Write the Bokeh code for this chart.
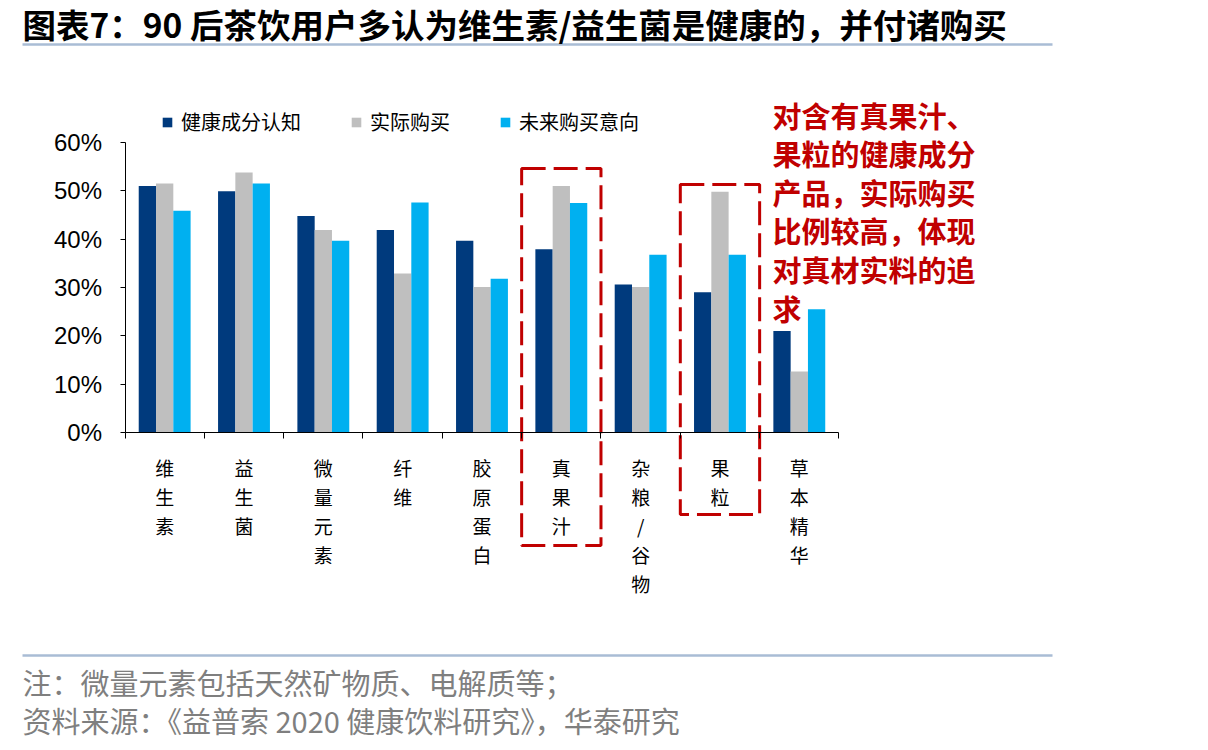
import numpy as np
from bokeh.plotting import figure
from bokeh.models import (Range1d, FixedTicker, PrintfTickFormatter, CustomJSTickFormatter,
                          LinearAxis, Label, ColumnDataSource, Legend, LegendItem, Grid)
from bokeh.transform import dodge
from bokeh.embed import file_html
from bokeh.resources import INLINE

# ---------------- data ----------------
categories = ["维生素", "益生菌", "微量元素", "纤维", "胶原蛋白", "真果汁", "杂粮/谷物", "果粒", "草本精华"]
series_names = ["健康成分认知", "实际购买", "未来购买意向"]
health_awareness = [51.0, 49.9, 44.8, 41.9, 39.7, 37.9, 30.6, 29.0, 21.0]
actual_purchase = [51.5, 53.8, 41.9, 32.9, 30.1, 51.0, 30.1, 49.8, 12.6]
future_intent = [45.9, 51.5, 39.7, 47.6, 31.8, 47.5, 36.8, 36.8, 25.5]
y_ticks = [0, 10, 20, 30, 40, 50, 60]
highlighted = ["真果汁", "果粒"]

title_text = "图表7：90 后茶饮用户多认为维生素/益生菌是健康的，并付诸购买"
note_text = "注：微量元素包括天然矿物质、电解质等；"
source_text = "资料来源：《益普索 2020 健康饮料研究》，华泰研究"
callout_text = "对含有真果汁、\n果粒的健康成分\n产品，实际购买\n比例较高，体现\n对真材实料的追\n求"

# ---------------- layout helpers ----------------
W, H = 1208, 750
X0, Y0 = 124.5, 432.0      # pixel position of the data origin
CW = 79.33                 # pixels per category
PY = 4.833                 # pixels per percent


def X(px):
    return (px - X0) / CW


def Y(py):
    return (Y0 - py) / PY


COLORS = ["#003A7D", "#BFBFBF", "#00B0F0"]
CJK = "Noto Sans CJK SC"
BAR_W = 0.218

p = figure(width=W, height=H, x_range=Range1d(X(0), X(W)), y_range=Range1d(Y(H), Y(0)),
           output_backend="svg", toolbar_location=None, min_border=0,
           x_axis_location=None, y_axis_location=None)
p.outline_line_color = None
p.background_fill_color = "white"
p.border_fill_color = "white"
for g in p.select(type=Grid):
    g.visible = False

# ---------------- bars ----------------
idx = np.arange(len(categories))
src = ColumnDataSource(dict(cat=categories, x=idx + 0.5, health=health_awareness,
                            actual=actual_purchase, future=future_intent))
renderers = []
for off, col, color in zip([-BAR_W, 0.0, BAR_W], ["health", "actual", "future"], COLORS):
    r = p.vbar(x=dodge("x", off, range=p.x_range), top=col, width=BAR_W, bottom=0,
               source=src, fill_color=color, line_color=None)
    renderers.append(r)

# ---------------- axes ----------------
yaxis = LinearAxis(fixed_location=0, bounds=(0, 60), ticker=FixedTicker(ticks=y_ticks),
                   formatter=PrintfTickFormatter(format="%d%%"),
                   axis_line_color="black", axis_line_width=1,
                   major_tick_line_color="black", major_tick_out=5, major_tick_in=0,
                   minor_tick_line_color=None, major_label_standoff=18,
                   major_label_text_font="Liberation Sans", major_label_text_font_size="24px",
                   major_label_text_color="black")
p.add_layout(yaxis, "left")

xaxis = LinearAxis(fixed_location=0, bounds=(0, len(categories)),
                   ticker=FixedTicker(ticks=list(range(len(categories) + 1))),
                   formatter=CustomJSTickFormatter(code="return ''"),
                   axis_line_color="black", axis_line_width=1,
                   major_tick_line_color="black", major_tick_out=6, major_tick_in=0,
                   minor_tick_line_color=None)
p.add_layout(xaxis, "below")

stacked = ["\n".join(list(c)) for c in categories]
label_axis = LinearAxis(fixed_location=0,
                        ticker=FixedTicker(ticks=[i + 0.5 for i in range(len(categories))]),
                        formatter=CustomJSTickFormatter(args=dict(labels=stacked),
                                                        code="return labels[Math.round(tick - 0.5)]"),
                        axis_line_color=None, major_tick_line_color=None, minor_tick_line_color=None,
                        major_tick_out=0, major_tick_in=0, major_label_standoff=21,
                        major_label_text_font=CJK, major_label_text_font_size="19px",
                        major_label_text_line_height=1.08, major_label_text_color="black")
p.add_layout(label_axis, "below")

# ---------------- legend ----------------
legend = Legend(items=[LegendItem(label=n, renderers=[r]) for n, r in zip(series_names, renderers)],
                location=(161, H - 136), orientation="horizontal",
                background_fill_alpha=0, border_line_color=None, padding=0, margin=0,
                spacing=49, glyph_width=12, glyph_height=12, label_standoff=8,
                label_text_font=CJK, label_text_font_size="20px", label_text_color="black")
p.add_layout(legend)

# ---------------- highlight boxes ----------------
box_top_px = {"真果汁": 168, "果粒": 184}
bl, br, bt, bb = [], [], [], []
for name in highlighted:
    i = categories.index(name)
    bl.append(i)
    br.append(i + 1)
    bt.append(Y(box_top_px[name]))
    bb.append(Y(452 + 31 * len(name)))
p.quad(left=bl, right=br, top=bt, bottom=bb, fill_color=None,
       line_color="#C00000", line_width=3, line_dash="24 8")

# ---------------- decorations & texts ----------------
p.segment(x0=[X(22), X(22)], y0=[Y(44), Y(655)], x1=[X(1052), X(1052)], y1=[Y(44), Y(655)],
          line_color="#A9BCD5", line_width=2.5)

p.add_layout(Label(x=X(22), y=Y(23), text=title_text, text_font=CJK, text_font_style="bold",
                   text_font_size="33.5px", text_baseline="middle", text_align="left",
                   text_color="black"))
p.add_layout(Label(x=X(22), y=Y(681), text=note_text, text_font=CJK, text_font_size="29px",
                   text_baseline="middle", text_align="left", text_color="#7F7F7F"))
p.add_layout(Label(x=X(22), y=Y(719), text=source_text, text_font=CJK, text_font_size="29px",
                   text_baseline="middle", text_align="left", text_color="#7F7F7F"))
p.add_layout(Label(x=X(772), y=Y(93), text=callout_text, text_font=CJK, text_font_style="bold",
                   text_font_size="29px", text_baseline="top", text_align="left",
                   text_line_height=0.92, text_color="#C00000"))

open("out.html", "w").write(file_html(p, INLINE))
